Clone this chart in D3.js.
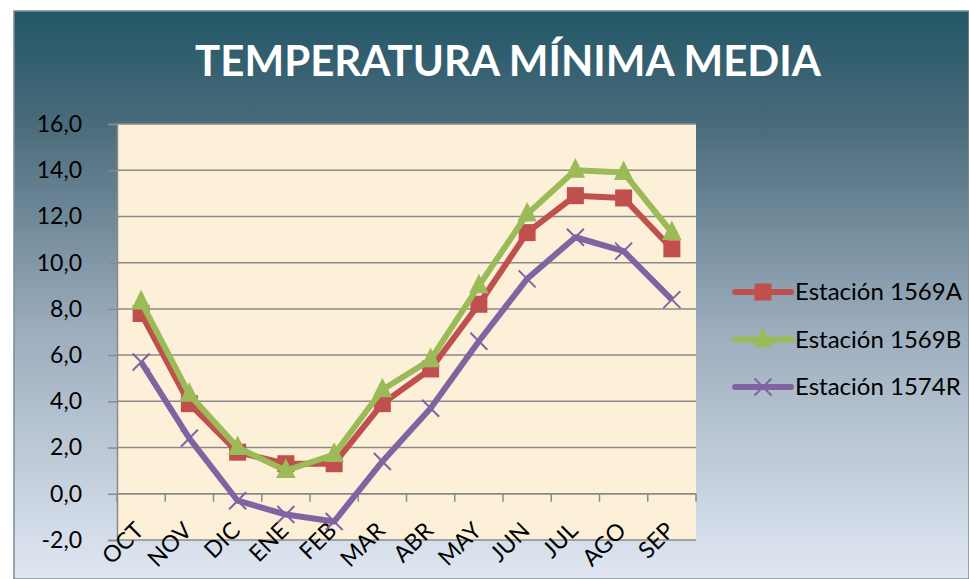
<!DOCTYPE html>
<html>
<head>
<meta charset="utf-8">
<script src="https://cdn.jsdelivr.net/npm/d3@7"></script>
<style>
  html, body { margin: 0; padding: 0; background: #fff; }
  svg { display: block; }
  text { font-family: Lato, "Open Sans", sans-serif; }
</style>
</head>
<body>
<svg id="chart" width="969" height="579"></svg>
<script>
// Data
const months = ["OCT", "NOV", "DIC", "ENE", "FEB", "MAR", "ABR", "MAY", "JUN", "JUL", "AGO", "SEP"];
const est1569A = [7.8, 3.9, 1.8, 1.3, 1.3, 3.9, 5.4, 8.2, 11.3, 12.9, 12.8, 10.6];
const est1569B = [8.3, 4.3, 2.0, 1.0, 1.7, 4.5, 5.8, 9.0, 12.1, 14.0, 13.9, 11.3];
const est1574R = [5.7, 2.4, -0.3, -0.9, -1.2, 1.4, 3.7, 6.6, 9.3, 11.1, 10.5, 8.4];
const yTicks = [-2, 0, 2, 4, 6, 8, 10, 12, 14, 16];
const seriesNames = ["Estación 1569A", "Estación 1569B", "Estación 1574R"];

const series = [
  { name: seriesNames[0], values: est1569A, color: "#c0504d", marker: "square" },
  { name: seriesNames[1], values: est1569B, color: "#9bbb59", marker: "triangle" },
  { name: seriesNames[2], values: est1574R, color: "#8064a2", marker: "cross" }
];

const svg = d3.select("#chart");
const W = 969, H = 579;

// Background gradient
const defs = svg.append("defs");
const bg = defs.append("linearGradient").attr("id", "bg")
  .attr("x1", 0).attr("y1", 0).attr("x2", 0).attr("y2", 1);
bg.append("stop").attr("offset", "0%").attr("stop-color", "#225767");
bg.append("stop").attr("offset", "20%").attr("stop-color", "#4a6b7b");
bg.append("stop").attr("offset", "55%").attr("stop-color", "#9aabbb");
bg.append("stop").attr("offset", "100%").attr("stop-color", "#e0e7f3");

svg.append("rect")
  .attr("x", 14).attr("y", 11)
  .attr("width", W - 14).attr("height", H - 11)
  .attr("fill", "url(#bg)")
  .attr("stroke", "#7f8a90")
  .attr("stroke-width", 1.5);

// Title
svg.append("text")
  .attr("x", 508).attr("y", 76)
  .attr("text-anchor", "middle")
  .attr("font-size", 42)
  .attr("font-weight", "bold")
  .attr("fill", "#ffffff")
  .text("TEMPERATURA MÍNIMA MEDIA");

// Plot area
const plot = { left: 117, right: 696, top: 124, bottom: 540 };

const x = d3.scaleBand()
  .domain(months)
  .range([plot.left, plot.right]);

const y = d3.scaleLinear()
  .domain([-2, 16])
  .range([plot.bottom, plot.top]);

svg.append("rect")
  .attr("x", plot.left).attr("y", plot.top)
  .attr("width", plot.right - plot.left)
  .attr("height", plot.bottom - plot.top)
  .attr("fill", "#fcf0d8");

// Gridlines
svg.append("g")
  .selectAll("line")
  .data(yTicks.filter((t) => t > -2))
  .join("line")
  .attr("x1", plot.left).attr("x2", plot.right)
  .attr("y1", (d) => y(d)).attr("y2", (d) => y(d))
  .attr("stroke", "#8a8a8a")
  .attr("stroke-width", 1.5);

// bottom border of plot area
svg.append("line")
  .attr("x1", plot.left).attr("x2", plot.right)
  .attr("y1", plot.bottom).attr("y2", plot.bottom)
  .attr("stroke", "#8a8a8a")
  .attr("stroke-width", 1.5);

// Y axis (comma decimals, plain hyphen for minus)
const yAxis = svg.append("g")
  .attr("transform", `translate(${plot.left},0)`)
  .call(d3.axisLeft(y).tickValues(yTicks).tickSize(9).tickPadding(26)
    .tickFormat((d) => d.toFixed(1).replace(".", ",")));
yAxis.select(".domain").attr("stroke", "#8a8a8a").attr("stroke-width", 1.5);
yAxis.selectAll(".tick line").attr("stroke", "#8a8a8a").attr("stroke-width", 1.5);
yAxis.selectAll(".tick text")
  .attr("fill", "#000")
  .attr("font-size", 23)
  .attr("font-family", "Lato, sans-serif");

// X axis (at zero)
const xAxis = svg.append("g")
  .attr("transform", `translate(0,${y(0)})`);
xAxis.append("line")
  .attr("x1", plot.left).attr("x2", plot.right)
  .attr("stroke", "#8a8a8a").attr("stroke-width", 1.5);
xAxis.selectAll(".xt")
  .data(d3.range(months.length + 1))
  .join("line")
  .attr("class", "xt")
  .attr("x1", (i) => plot.left + i * x.step())
  .attr("x2", (i) => plot.left + i * x.step())
  .attr("y1", 0).attr("y2", 8)
  .attr("stroke", "#8a8a8a").attr("stroke-width", 1.5);

// X labels, rotated, at the bottom
svg.append("g")
  .selectAll("text")
  .data(months)
  .join("text")
  .attr("transform", (d) => `translate(${x(d) + x.bandwidth() / 2 + 4},${plot.bottom - 8}) rotate(-45)`)
  .attr("text-anchor", "end")
  .attr("font-size", 23)
  .attr("fill", "#000")
  .text((d) => d);

// Lines
const line = d3.line()
  .x((d, i) => x(months[i]) + x.bandwidth() / 2)
  .y((d) => y(d));

function drawMarker(g, type, color, size) {
  if (type === "square") {
    g.append("rect")
      .attr("x", -size / 2).attr("y", -size / 2)
      .attr("width", size).attr("height", size)
      .attr("fill", color);
  } else if (type === "triangle") {
    const s = size * 1.15;
    g.append("path")
      .attr("d", `M0,${-s * 0.62}L${s / 2},${s * 0.38}L${-s / 2},${s * 0.38}Z`)
      .attr("fill", color);
  } else {
    const s = size / 2;
    g.append("path")
      .attr("d", `M${-s},${-s}L${s},${s}M${-s},${s}L${s},${-s}`)
      .attr("stroke", color)
      .attr("stroke-width", 2);
  }
}

series.forEach((s) => {
  svg.append("path")
    .datum(s.values)
    .attr("d", line)
    .attr("fill", "none")
    .attr("stroke", s.color)
    .attr("stroke-width", 6)
    .attr("stroke-linejoin", "round");

  svg.append("g")
    .selectAll("g")
    .data(s.values)
    .join("g")
    .attr("transform", (d, i) => `translate(${x(months[i]) + x.bandwidth() / 2},${y(d)})`)
    .each(function () { drawMarker(d3.select(this), s.marker, s.color, 17); });
});

// Legend
const legend = svg.append("g");
series.forEach((s, i) => {
  const row = legend.append("g")
    .attr("transform", `translate(735,${292 + i * 47.5})`);
  row.append("line")
    .attr("x1", 0).attr("x2", 56)
    .attr("stroke", s.color)
    .attr("stroke-width", 6)
    .attr("stroke-linecap", "round");
  const m = row.append("g").attr("transform", "translate(28,0)");
  drawMarker(m, s.marker, s.color, 17);
  row.append("text")
    .attr("x", 60).attr("y", 8)
    .attr("font-size", 24)
    .attr("fill", "#000")
    .text(s.name);
});
</script>
</body>
</html>
